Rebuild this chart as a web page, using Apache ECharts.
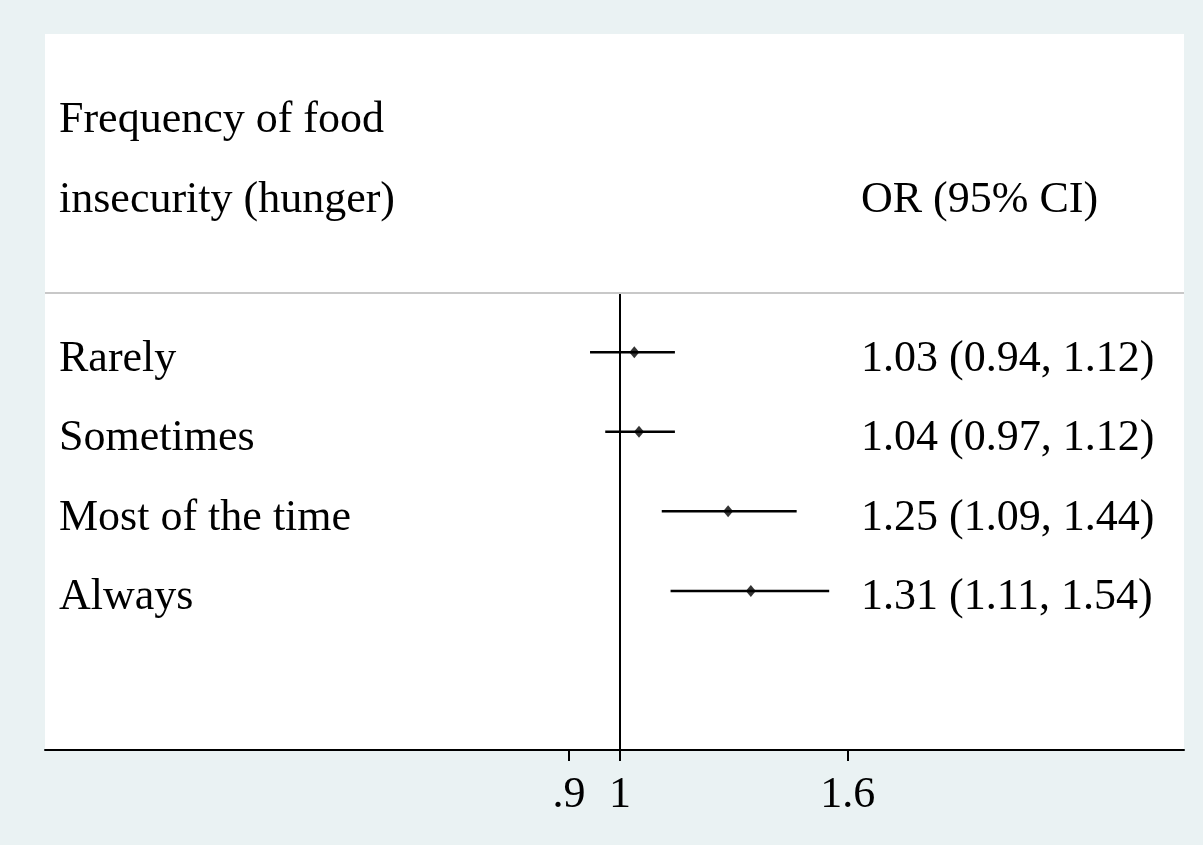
<!DOCTYPE html>
<html>
<head>
<meta charset="utf-8">
<script src="https://cdn.jsdelivr.net/npm/echarts@6/dist/echarts.min.js"></script>
<style>
  html, body { margin: 0; padding: 0; background: #EAF2F3; }
  #chart { width: 1203px; height: 845px; }
</style>
</head>
<body>
<div id="chart"></div>
<script>
// Odds ratios by frequency of food insecurity (hunger)
const categories = ['Rarely', 'Sometimes', 'Most of the time', 'Always'];
const orValues = [1.03, 1.04, 1.25, 1.31];
const ciLower = [0.94, 0.97, 1.09, 1.11];
const ciUpper = [1.12, 1.12, 1.44, 1.54];
const headerLeft = ['Frequency of food', 'insecurity (hunger)'];
const headerRight = 'OR (95% CI)';
const xTicks = [0.9, 1, 1.6];
const xTickLabels = ['.9', '1', '1.6'];

const FONT = 'Liberation Serif';
const FS = 44;

// row positions on the y scale: headers above, estimate rows 0..n-1
const headerRows = [-3, -2];
const rowIdx = categories.map((_, i) => i);
const Y_MIN = -4, Y_MAX = 5;
// text rows sit a little below the marker rows (baseline-centred type)
const TEXT_SHIFT = 0.088;

const leftText = {};
headerRows.forEach((r, i) => { leftText[r] = headerLeft[i]; });
categories.forEach((c, i) => { leftText[i] = c; });

const fmt = v => v.toFixed(2);
const rightText = {};
rightText[-2] = headerRight;
categories.forEach((c, i) => {
  rightText[i] = fmt(orValues[i]) + ' (' + fmt(ciLower[i]) + ', ' + fmt(ciUpper[i]) + ')';
});

const chart = echarts.init(document.getElementById('chart'));

const textStyle = { fontFamily: FONT, fontSize: FS, color: '#000' };

function textAxis(position, values, lookup, margin) {
  return {
    type: 'value', inverse: true,
    min: Y_MIN - TEXT_SHIFT, max: Y_MAX - TEXT_SHIFT,
    position: position,
    axisLine: { show: false }, axisTick: { show: false }, splitLine: { show: false },
    axisLabel: {
      customValues: values,
      formatter: v => lookup[Math.round(v)] ?? '',
      align: 'left', margin: margin, verticalAlign: 'middle',
      ...textStyle
    }
  };
}

chart.setOption({
  backgroundColor: '#EAF2F3',
  animation: false,
  grid: {
    left: 45, top: 34, width: 1139, height: 716,
    show: true, backgroundColor: '#ffffff', borderWidth: 0,
    containLabel: false
  },
  xAxis: {
    type: 'log',
    logBase: Math.E,
    min: 0.3052,
    max: 3.203,
    axisLine: { show: true, onZero: false, lineStyle: { color: '#000', width: 2 } },
    axisTick: { show: true, customValues: xTicks, length: 11, lineStyle: { color: '#000', width: 2 } },
    axisLabel: {
      show: true, customValues: xTicks, margin: 23,
      formatter: v => xTickLabels[xTicks.findIndex(t => Math.abs(t - v) < 1e-6)] ?? '',
      ...textStyle
    },
    splitLine: { show: false }
  },
  yAxis: [
    {
      // marker rows
      type: 'value', inverse: true, min: Y_MIN, max: Y_MAX,
      show: false
    },
    textAxis('left', headerRows.concat(rowIdx), leftText, -14),
    textAxis('right', [-2].concat(rowIdx), rightText, -323)
  ],
  series: [
    {
      // confidence intervals
      type: 'custom',
      xAxisIndex: 0, yAxisIndex: 0,
      data: categories.map((_, i) => [ciLower[i], ciUpper[i], i]),
      renderItem: (params, api) => {
        const p1 = api.coord([api.value(0), api.value(2)]);
        const p2 = api.coord([api.value(1), api.value(2)]);
        return {
          type: 'line',
          shape: { x1: p1[0], y1: p1[1], x2: p2[0], y2: p2[1] },
          style: { stroke: '#000', lineWidth: 2.5 }
        };
      },
      encode: { x: [0, 1], y: 2 },
      silent: true,
      z: 3,
      markLine: {
        silent: true,
        symbol: 'none',
        label: { show: false },
        data: [
          [{ coord: [1, -0.75], lineStyle: { color: '#000', width: 2, type: 'solid' } },
           { coord: [1, Y_MAX] }],
          { yAxis: -0.75, lineStyle: { color: '#c8c8c8', width: 2, type: 'solid' } }
        ]
      }
    },
    {
      // point estimates
      type: 'scatter',
      xAxisIndex: 0, yAxisIndex: 0,
      data: categories.map((_, i) => [orValues[i], i]),
      symbol: 'diamond',
      symbolSize: [10, 12],
      itemStyle: { color: '#000' },
      silent: true,
      z: 4
    }
  ]
});
</script>
</body>
</html>
